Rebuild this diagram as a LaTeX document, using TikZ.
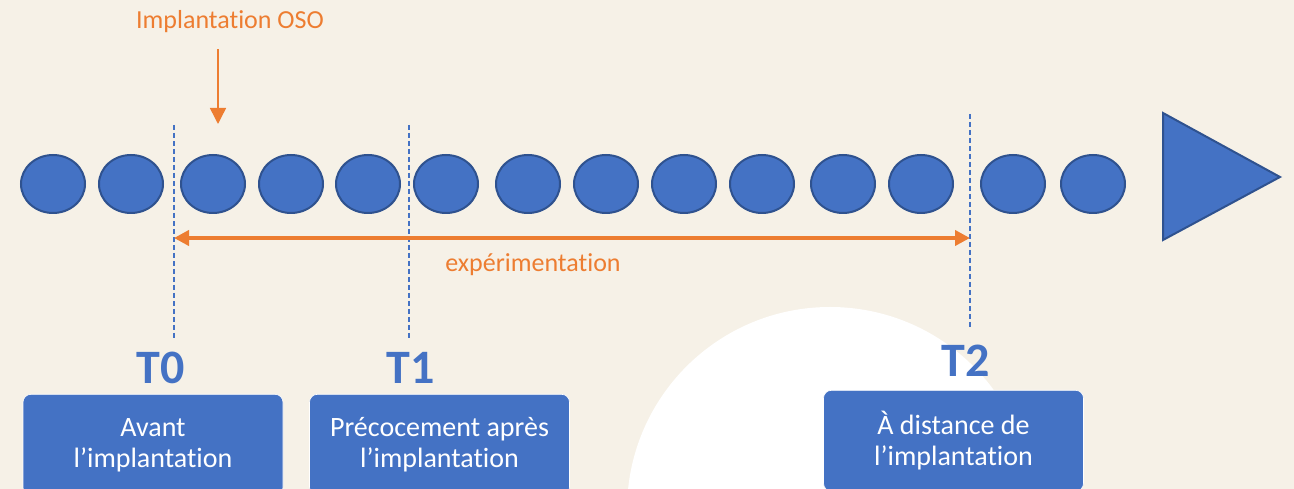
\documentclass[tikz,border=0pt]{standalone}
\usepackage{fontspec}
\setmainfont[Ligatures=NoCommon]{Carlito}
\usepackage{xcolor}
\usetikzlibrary{arrows.meta}
\usetikzlibrary{positioning}
\usetikzlibrary{shapes.geometric}

\definecolor{bg}{RGB}{246,241,231}
\definecolor{blu}{HTML}{4472C4}
\definecolor{bluedge}{HTML}{2F528F}
\definecolor{orng}{HTML}{ED7D31}

\tikzset{
	dot/.style={ellipse,fill=blu,draw=bluedge,line width=2pt,minimum width=64pt,minimum height=58pt,inner sep=0pt},
	tline/.style={blu,line width=1.2pt,dash pattern=on 5pt off 3pt},
	span/.style={orng,line width=4pt,{Triangle[length=15pt,width=15pt]}-{Triangle[length=15pt,width=15pt]}},
	pointer/.style={orng,line width=1.5pt,-{Triangle[length=16pt,width=16pt]}},
	otext/.style={orng,inner sep=0pt,font=\fontsize{26}{31}\selectfont},
	tlabel/.style={blu,inner sep=0pt,font=\bfseries\fontsize{48}{56}\selectfont},
	phase/.style={fill=blu,draw=white,line width=0.6pt,rounded corners=8pt,text=white,align=center,
		minimum width=260pt,minimum height=101pt,inner sep=0pt,font=\fontsize{28}{31}\selectfont}
}

\begin{document}
\begin{tikzpicture}[x=1pt,y=1pt]
\clip (0,0) rectangle (1294,489);
\fill[bg] (0,0) rectangle (1294,489);

\fill[white] (830,-21) circle (203);

% time points
\foreach \x [count=\i] in {53,131,213,291,368,446,528,606,684,762,843,921,1013,1093}{
	\node[dot] (e\i) at (\x,305) {};
}
\filldraw[fill=blu,draw=bluedge,line width=2pt] (1163,376) -- (1163,249) -- (1280,312) -- cycle;

% markers
\coordinate (m0) at (174,364);
\coordinate (m0b) at (174,151);
\coordinate (m1) at (409,364);
\coordinate (m1b) at (409,151);
\coordinate (m2) at (970,375);
\coordinate (m2b) at (970,161);
\draw[tline] (m0) -- (m0b);
\draw[tline] (m1) -- (m1b);
\draw[tline] (m2) -- (m2b);

\draw[span] (m0 |- 0,251) -- (m2 |- 0,251);
\node[otext,anchor=base] (exp) at (533,217) {expérimentation};

\node[otext,anchor=base] (oso) at (230,460) {Implantation OSO};
\coordinate (osoarr) at (218,365);
\draw[pointer] ([yshift=-16pt]oso.south -| osoarr) -- (osoarr);

\node[tlabel,anchor=base] (t0) at (161,105) {T0};
\node[tlabel,anchor=base] (t1) at (411,105) {T1};
\node[tlabel,anchor=base] (t2) at (966,112) {T2};

\node[phase,anchor=north] (p0) at (153,95) {Avant\\l’implantation};
\node[phase,anchor=north] (p1) at (439.5,95) {Précocement après\\l’implantation};
\node[phase,anchor=north] (p2) at (953.5,99) {À distance de\\l’implantation};

\end{tikzpicture}
\end{document}
